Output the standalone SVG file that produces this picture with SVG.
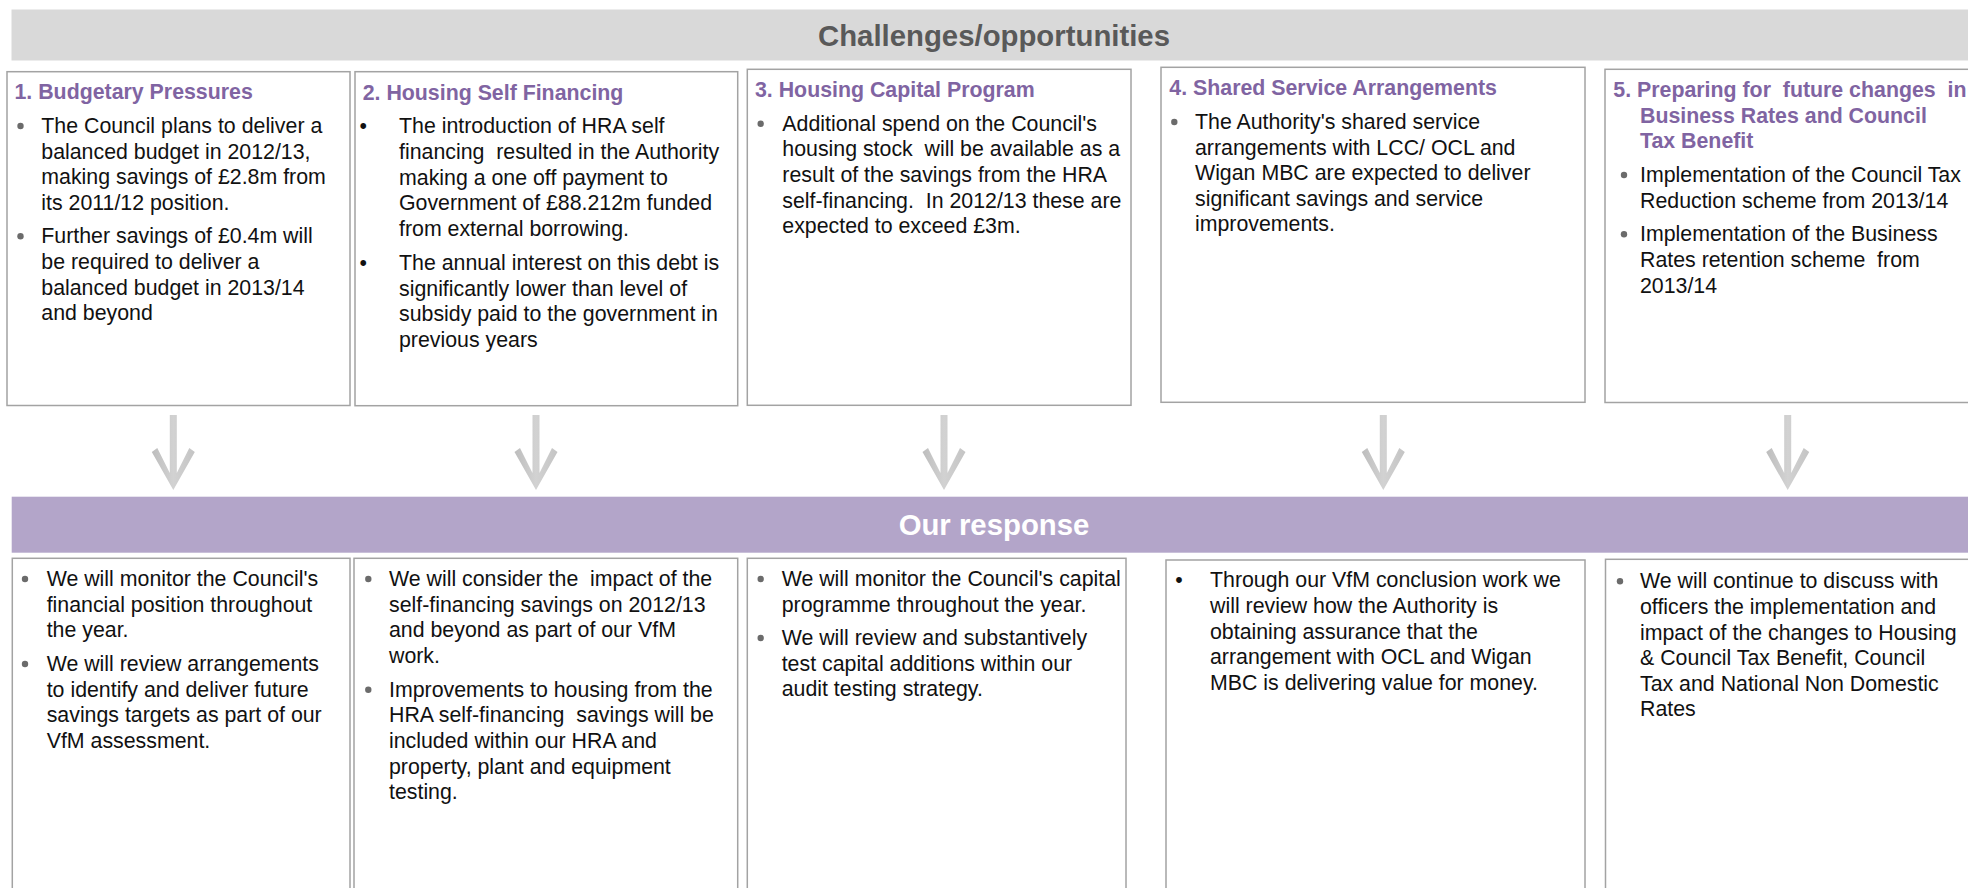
<svg xmlns="http://www.w3.org/2000/svg" width="1968" height="888" viewBox="0 0 1968 888">
<style>
text{font-family:"Liberation Sans",Arial,sans-serif;}
.band-title{font-size:29.33px;font-weight:bold;text-anchor:middle;}
.box{fill:#ffffff;stroke:#a3a3a3;stroke-width:1.5;}
.ttl{font-size:21.33px;font-weight:bold;fill:#8064a2;}
.txt{font-size:21.33px;fill:#111111;}
.dot{fill:#6b6b6b;}
.arrow{fill:url(#arrowGrad);}
</style>
<defs>
<linearGradient id="arrowGrad" x1="0" y1="0" x2="1" y2="0">
<stop offset="0" stop-color="#bdbdbd"/>
<stop offset="0.5" stop-color="#d2d2d2"/>
<stop offset="1" stop-color="#c4c4c4"/>
</linearGradient>
<path id="arrowShape" d="M -3.5 0 L 3.5 0 L 3.5 58 L 16 33 L 21.5 37 L 0 75 L -21.5 37 L -16 33 L -3.5 58 Z"/>
</defs>
<rect width="1968" height="888" fill="#ffffff"/>

<g id="header-challenges">
<rect x="11.5" y="9.5" width="1960" height="51" fill="#d9d9d9"/>
<text class="band-title" x="994" y="45.5" fill="#595959">Challenges/opportunities</text>
</g>

<g id="box1">
<rect class="box" x="7" y="71.7" width="343" height="333.8"/>
<text class="ttl" x="14.5" y="99.3">1. Budgetary Pressures</text>
<circle class="dot" cx="20.5" cy="126" r="3.2"/>
<text class="txt" x="41.3" y="133">The Council plans to deliver a</text>
<text class="txt" x="41.3" y="158.6">balanced budget in 2012/13,</text>
<text class="txt" x="41.3" y="184.2">making savings of £2.8m from</text>
<text class="txt" x="41.3" y="209.8">its 2011/12 position.</text>
<circle class="dot" cx="20.5" cy="236.3" r="3.2"/>
<text class="txt" x="41.3" y="243.3">Further savings of £0.4m will</text>
<text class="txt" x="41.3" y="268.9">be required to deliver a</text>
<text class="txt" x="41.3" y="294.5">balanced budget in 2013/14</text>
<text class="txt" x="41.3" y="320.1">and beyond</text>
</g>

<g id="box2">
<rect class="box" x="355" y="71.7" width="382.7" height="334"/>
<text class="ttl" x="362.7" y="100">2. Housing Self Financing</text>
<text class="txt" x="359.6" y="133.3">•</text>
<text class="txt" x="399" y="133.3">The introduction of HRA self</text>
<text class="txt" x="399" y="158.9" xml:space="preserve">financing  resulted in the Authority</text>
<text class="txt" x="399" y="184.5">making a one off payment to</text>
<text class="txt" x="399" y="210.1">Government of £88.212m funded</text>
<text class="txt" x="399" y="235.7">from external borrowing.</text>
<text class="txt" x="359.6" y="270">•</text>
<text class="txt" x="399" y="270">The annual interest on this debt is</text>
<text class="txt" x="399" y="295.6">significantly lower than level of</text>
<text class="txt" x="399" y="321.2">subsidy paid to the government in</text>
<text class="txt" x="399" y="346.8">previous years</text>
</g>

<g id="box3">
<rect class="box" x="747.3" y="69.3" width="383.7" height="336"/>
<text class="ttl" x="755" y="97.3">3. Housing Capital Program</text>
<circle class="dot" cx="760.7" cy="123.7" r="3.2"/>
<text class="txt" x="782.3" y="130.7">Additional spend on the Council's</text>
<text class="txt" x="782.3" y="156.3" xml:space="preserve">housing stock  will be available as a</text>
<text class="txt" x="782.3" y="181.9">result of the savings from the HRA</text>
<text class="txt" x="782.3" y="207.5" xml:space="preserve">self-financing.  In 2012/13 these are</text>
<text class="txt" x="782.3" y="233.1">expected to exceed £3m.</text>
</g>

<g id="box4">
<rect class="box" x="1161" y="67.3" width="424" height="335"/>
<text class="ttl" x="1169.3" y="95">4. Shared Service Arrangements</text>
<circle class="dot" cx="1174.3" cy="122" r="3.2"/>
<text class="txt" x="1195" y="129">The Authority's shared service</text>
<text class="txt" x="1195" y="154.6">arrangements with LCC/ OCL and</text>
<text class="txt" x="1195" y="180.2">Wigan MBC are expected to deliver</text>
<text class="txt" x="1195" y="205.8">significant savings and service</text>
<text class="txt" x="1195" y="231.4">improvements.</text>
</g>

<g id="box5">
<rect class="box" x="1605" y="69.3" width="380" height="333.2"/>
<text class="ttl" x="1613.3" y="97" xml:space="preserve">5. Preparing for  future changes  in</text>
<text class="ttl" x="1640" y="122.8">Business Rates and Council</text>
<text class="ttl" x="1640" y="148.4">Tax Benefit</text>
<circle class="dot" cx="1624" cy="175" r="3.2"/>
<text class="txt" x="1640" y="182">Implementation of the Council Tax</text>
<text class="txt" x="1640" y="207.6">Reduction scheme from 2013/14</text>
<circle class="dot" cx="1624" cy="234.3" r="3.2"/>
<text class="txt" x="1640" y="241.3">Implementation of the Business</text>
<text class="txt" x="1640" y="266.9" xml:space="preserve">Rates retention scheme  from</text>
<text class="txt" x="1640" y="292.5">2013/14</text>
</g>

<g id="connectors">
<use href="#arrowShape" class="arrow" transform="translate(173.3,415)"/>
<use href="#arrowShape" class="arrow" transform="translate(536,415)"/>
<use href="#arrowShape" class="arrow" transform="translate(944,415)"/>
<use href="#arrowShape" class="arrow" transform="translate(1383.3,415)"/>
<use href="#arrowShape" class="arrow" transform="translate(1787.7,415)"/>
</g>

<g id="header-response">
<rect x="11.7" y="496.7" width="1960" height="56" fill="#b3a5c9"/>
<text class="band-title" x="994" y="535" fill="#ffffff">Our response</text>
</g>

<g id="resp1">
<rect class="box" x="12.3" y="558.3" width="337.7" height="340"/>
<circle class="dot" cx="25" cy="579" r="3.2"/>
<text class="txt" x="46.7" y="586">We will monitor the Council's</text>
<text class="txt" x="46.7" y="611.6">financial position throughout</text>
<text class="txt" x="46.7" y="637.2">the year.</text>
<circle class="dot" cx="25" cy="664" r="3.2"/>
<text class="txt" x="46.7" y="671">We will review arrangements</text>
<text class="txt" x="46.7" y="696.6">to identify and deliver future</text>
<text class="txt" x="46.7" y="722.2">savings targets as part of our</text>
<text class="txt" x="46.7" y="747.8">VfM assessment.</text>
</g>

<g id="resp2">
<rect class="box" x="354" y="558.3" width="383.7" height="340"/>
<circle class="dot" cx="368.3" cy="579" r="3.2"/>
<text class="txt" x="389" y="586" xml:space="preserve">We will consider the  impact of the</text>
<text class="txt" x="389" y="611.6">self-financing savings on 2012/13</text>
<text class="txt" x="389" y="637.2">and beyond as part of our VfM</text>
<text class="txt" x="389" y="662.8">work.</text>
<circle class="dot" cx="368.3" cy="689.7" r="3.2"/>
<text class="txt" x="389" y="696.7">Improvements to housing from the</text>
<text class="txt" x="389" y="722.3" xml:space="preserve">HRA self-financing  savings will be</text>
<text class="txt" x="389" y="747.9">included within our HRA and</text>
<text class="txt" x="389" y="773.5">property, plant and equipment</text>
<text class="txt" x="389" y="799.1">testing.</text>
</g>

<g id="resp3">
<rect class="box" x="747.3" y="558.3" width="378.7" height="340"/>
<circle class="dot" cx="760.7" cy="579" r="3.2"/>
<text class="txt" x="781.7" y="586">We will monitor the Council's capital</text>
<text class="txt" x="781.7" y="611.6">programme throughout the year.</text>
<circle class="dot" cx="760.7" cy="638" r="3.2"/>
<text class="txt" x="781.7" y="645">We will review and substantively</text>
<text class="txt" x="781.7" y="670.6">test capital additions within our</text>
<text class="txt" x="781.7" y="696.2">audit testing strategy.</text>
</g>

<g id="resp4">
<rect class="box" x="1166" y="560" width="419" height="340"/>
<text class="txt" x="1175.3" y="587.3">•</text>
<text class="txt" x="1210" y="587.3">Through our VfM conclusion work we</text>
<text class="txt" x="1210" y="612.9">will review how the Authority is</text>
<text class="txt" x="1210" y="638.5">obtaining assurance that the</text>
<text class="txt" x="1210" y="664.1">arrangement with OCL and Wigan</text>
<text class="txt" x="1210" y="689.7">MBC is delivering value for money.</text>
</g>

<g id="resp5">
<rect class="box" x="1605.5" y="559.3" width="380" height="340"/>
<circle class="dot" cx="1620" cy="581.3" r="3.2"/>
<text class="txt" x="1640" y="588.3">We will continue to discuss with</text>
<text class="txt" x="1640" y="613.9">officers the implementation and</text>
<text class="txt" x="1640" y="639.5">impact of the changes to Housing</text>
<text class="txt" x="1640" y="665.1">&amp; Council Tax Benefit, Council</text>
<text class="txt" x="1640" y="690.7">Tax and National Non Domestic</text>
<text class="txt" x="1640" y="716.3">Rates</text>
</g>
</svg>
